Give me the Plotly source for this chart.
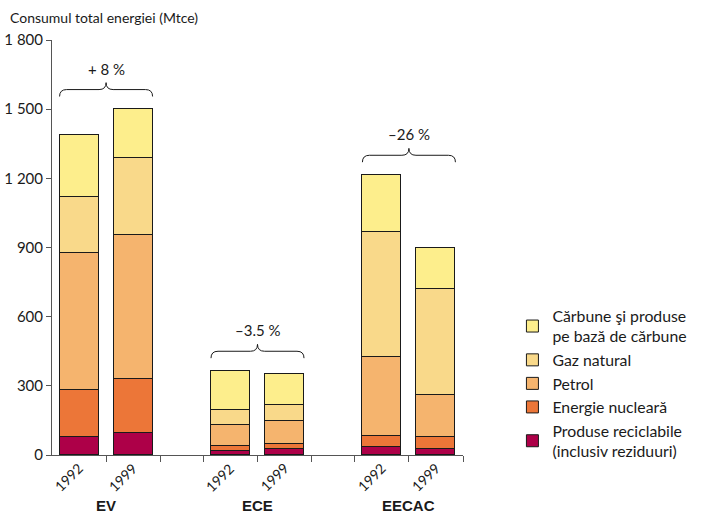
import plotly.graph_objects as go

# ---- data ----
groups = ["EV", "ECE", "EECAC"]
years = ["1992", "1999"]
changes = ["+ 8 %", "–3.5 %", "–26 %"]
series_names = [
    "Produse reciclabile<br>(inclusiv reziduuri)",
    "Energie nucleară",
    "Petrol",
    "Gaz natural",
    "Cărbune şi produse<br>pe bază de cărbune",
]
renew = [77, 96, 18, 25, 33, 27]
nuclear = [205, 234, 19, 21, 50, 52]
petrol = [595, 623, 93, 103, 341, 180]
gas = [244, 337, 66, 67, 542, 462]
coal = [269, 210, 169, 135, 249, 179]
y_ticks = [0, 300, 600, 900, 1200, 1500, 1800]
y_ticktext = ["0", "300", "600", "900", "1 200", "1 500", "1 800"]
y_title = "Consumul total energiei (Mtce)"

# ---- styling ----
colors = ["#AD0048", "#EC7638", "#F5B46E", "#F9D98A", "#FDEE8C"]
FONT = "Lato, 'Open Sans', sans-serif"
AX = "#555555"
GROUP_W = 2.0
GAP = 0.8
BAR_W = 0.72

centers = [1 + (GROUP_W + GAP) * i for i in range(len(groups))]
xs = []
for c in centers:
    xs += [c - 0.5, c + 0.5]

all_series = [renew, nuclear, petrol, gas, coal]

fig = go.Figure()
for name, vals, col in zip(series_names, all_series, colors):
    fig.add_trace(go.Bar(
        x=xs, y=vals, name=name, width=BAR_W,
        marker=dict(color=col, line=dict(color="#1a1a1a", width=1)),
        hoverinfo="y+name",
    ))

totals = [sum(s[i] for s in all_series) for i in range(len(xs))]

L, R, T, B = 52, 238, 40, 59
pw, ph = 701 - L - R, 514 - T - B

shapes = []
annotations = []
for gi, c in enumerate(centers):
    top = max(totals[2 * gi], totals[2 * gi + 1])
    yb = top + 55
    ym = yb + 30
    yt = ym + 30
    x0 = c - 0.5 - BAR_W / 2
    x1 = c + 0.5 + BAR_W / 2
    r = 0.13
    path = (f"M {x0},{yb} Q {x0},{ym} {x0 + r},{ym} L {c - r},{ym} "
            f"Q {c},{ym} {c},{yt} Q {c},{ym} {c + r},{ym} L {x1 - r},{ym} "
            f"Q {x1},{ym} {x1},{yb}")
    shapes.append(dict(type="path", path=path, xref="x", yref="y",
                       line=dict(color="#1a1a1a", width=1)))
    annotations.append(dict(x=c, y=yt, xref="x", yref="y", text=changes[gi],
                            showarrow=False, yanchor="bottom", yshift=3,
                            font=dict(family=FONT, size=15, color="#1a1a1a")))
    annotations.append(dict(x=c, y=0, xref="x", yref="paper", text=f"<b>{groups[gi]}</b>",
                            showarrow=False, yanchor="middle", yshift=-50,
                            font=dict(family="'Liberation Sans Narrow', 'Arial Narrow', sans-serif",
                                      size=15, color="#1a1a1a")))
    for k, yr in enumerate(years):
        annotations.append(dict(x=c - 0.5 + k, y=0, xref="x", yref="paper", text=yr,
                                showarrow=False, textangle=-45, xanchor="center",
                                yanchor="middle", xshift=-11, yshift=-22,
                                font=dict(family=FONT, size=14, color="#1a1a1a")))

annotations.append(dict(x=(8 - L) / pw, y=(ph + T - 18) / ph, xref="paper", yref="paper",
                        text=y_title, showarrow=False, xanchor="left", yanchor="middle",
                        font=dict(family=FONT, size=14, color="#1a1a1a")))

tick_x = []
for c in centers:
    tick_x += [c - GROUP_W / 2, c, c + GROUP_W / 2]
tick_x = [t for t in tick_x if t > 0]

fig.update_layout(
    width=701, height=514,
    margin=dict(l=L, r=R, t=T, b=B, autoexpand=False),
    paper_bgcolor="white", plot_bgcolor="white",
    barmode="stack", bargap=0,
    showlegend=True,
    legend=dict(xref="container", yref="container", x=0.731, y=1 - 299 / 514,
                xanchor="left", yanchor="top", traceorder="reversed",
                font=dict(family=FONT, size=15.8, color="#1a1a1a"),
                bgcolor="rgba(0,0,0,0)", itemclick=False, tracegroupgap=0),
    xaxis=dict(range=[0, centers[-1] + GROUP_W / 2], showgrid=False, zeroline=False,
               showline=True, linecolor=AX, linewidth=1,
               tickmode="array", tickvals=tick_x, ticks="outside", ticklen=6,
               tickcolor=AX, showticklabels=False, fixedrange=True),
    yaxis=dict(range=[0, 1800], showgrid=False, zeroline=False,
               showline=True, linecolor=AX, linewidth=1,
               tickmode="array", tickvals=y_ticks, ticktext=y_ticktext,
               ticks="outside", ticklen=5, tickcolor=AX,
               tickfont=dict(family=FONT, size=15, color="#1a1a1a"), fixedrange=True),
    shapes=shapes,
    annotations=annotations,
)

fig.write_html("out.html", config={"displayModeBar": False},
               post_script="document.body.style.margin='0';document.body.style.overflow='hidden';")
